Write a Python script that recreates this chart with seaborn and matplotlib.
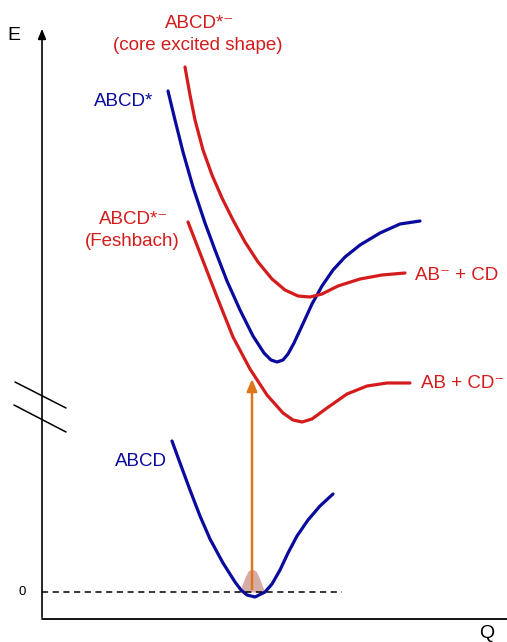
import matplotlib
matplotlib.use("Agg")
import matplotlib.pyplot as plt
import seaborn as sns
import pandas as pd

sns.set_theme(style="white")
plt.rcParams['font.family'] = ['Liberation Sans', 'DejaVu Sans']

BLUE = "#0a0a9e"
RED = "#d41c1c"
ORANGE = "#e0761c"

# Curves (Q, E) in schematic units (pixel-like, E axis downward in screen space)
ground_q = [172, 180, 190, 200, 210, 223, 235, 241, 247, 255, 265, 272, 280, 288, 297, 308, 320, 333]
ground_e = [441, 463, 490, 516, 539, 563, 582, 590, 595, 597, 592, 584, 570, 553, 536, 520, 506, 494]

excited_q = [168, 175, 183, 193, 205, 215, 227, 240, 253, 264, 271, 277, 283, 288, 294, 301, 312, 322, 333, 345, 360, 380, 400, 420]
excited_e = [91, 120, 152, 187, 223, 250, 281, 310, 336, 353, 360, 362, 360, 354, 343, 328, 304, 286, 270, 257, 245, 233, 224, 221]

core_q = [185, 190, 195, 203, 212, 222, 233, 245, 258, 272, 285, 298, 310, 322, 338, 360, 382, 405]
core_e = [67, 95, 120, 150, 175, 198, 220, 242, 262, 279, 290, 296, 297, 294, 286, 279, 275, 273]

fesh_q = [188, 200, 217, 233, 250, 267, 283, 293, 302, 312, 327, 347, 367, 387, 410]
fesh_e = [222, 253, 297, 337, 369, 395, 413, 420, 422, 419, 408, 394, 386, 383, 383]

wave_q = [239, 242, 245, 248, 252, 256, 259, 262, 265]
wave_e = [592, 585, 577, 571, 569, 571, 577, 585, 592]

fig = plt.figure(figsize=(5.07, 6.42), dpi=100)
ax = fig.add_axes([0, 0, 1, 1])
ax.set_xlim(0, 507)
ax.set_ylim(642, 0)
ax.axis("off")

def curve(q, e, color):
    df = pd.DataFrame({"Q": q, "E": e})
    sns.lineplot(data=df, x="Q", y="E", sort=False, estimator=None,
                 color=color, lw=2.3, ax=ax)
    ax.lines[-1].set_solid_joinstyle("round")
    ax.lines[-1].set_solid_capstyle("round")

curve(ground_q, ground_e, BLUE)
curve(excited_q, excited_e, BLUE)
curve(core_q, core_e, RED)
curve(fesh_q, fesh_e, RED)

ax.fill_between(wave_q, wave_e, 592, color="#b8766e", alpha=0.6, lw=0)

# axes
ax.annotate("", xy=(42, 26), xytext=(42, 620),
            arrowprops=dict(arrowstyle="-|>,head_length=0.5,head_width=0.2", color="black", lw=1.2))
ax.plot([42, 507], [619, 619], color="black", lw=1.3)
ax.plot([42, 342], [592, 592], color="black", lw=1.1, ls=(0, (4, 3)))
# break marks
ax.plot([15, 66], [382, 408], color="black", lw=1.1)
ax.plot([14, 66], [405, 432], color="black", lw=1.1)

# excitation arrow
ax.annotate("", xy=(252, 376), xytext=(252, 592),
            arrowprops=dict(arrowstyle="-|>,head_length=0.6,head_width=0.25", color=ORANGE, lw=1.8))

fs = 13.5
ax.text(14, 36, "E", fontsize=14, ha="center", va="center", color="black")
ax.text(487, 633, "Q", fontsize=14, ha="center", va="center", color="black")
ax.text(22, 592, "0", fontsize=9.5, ha="center", va="center", color="black")
ax.text(200, 23, "ABCD*⁻", fontsize=fs, ha="center", va="center", color=RED)
ax.text(198, 45, "(core excited shape)", fontsize=fs, ha="center", va="center", color=RED)
ax.text(124, 101, "ABCD*", fontsize=fs, ha="center", va="center", color=BLUE)
ax.text(134, 220, "ABCD*⁻", fontsize=fs, ha="center", va="center", color=RED)
ax.text(132, 242, "(Feshbach)", fontsize=fs, ha="center", va="center", color=RED)
ax.text(141, 461, "ABCD", fontsize=fs, ha="center", va="center", color=BLUE)
ax.text(457, 275, "AB⁻ + CD", fontsize=fs, ha="center", va="center", color=RED)
ax.text(463, 383, "AB + CD⁻", fontsize=fs, ha="center", va="center", color=RED)

fig.savefig("out.png", dpi=100)
